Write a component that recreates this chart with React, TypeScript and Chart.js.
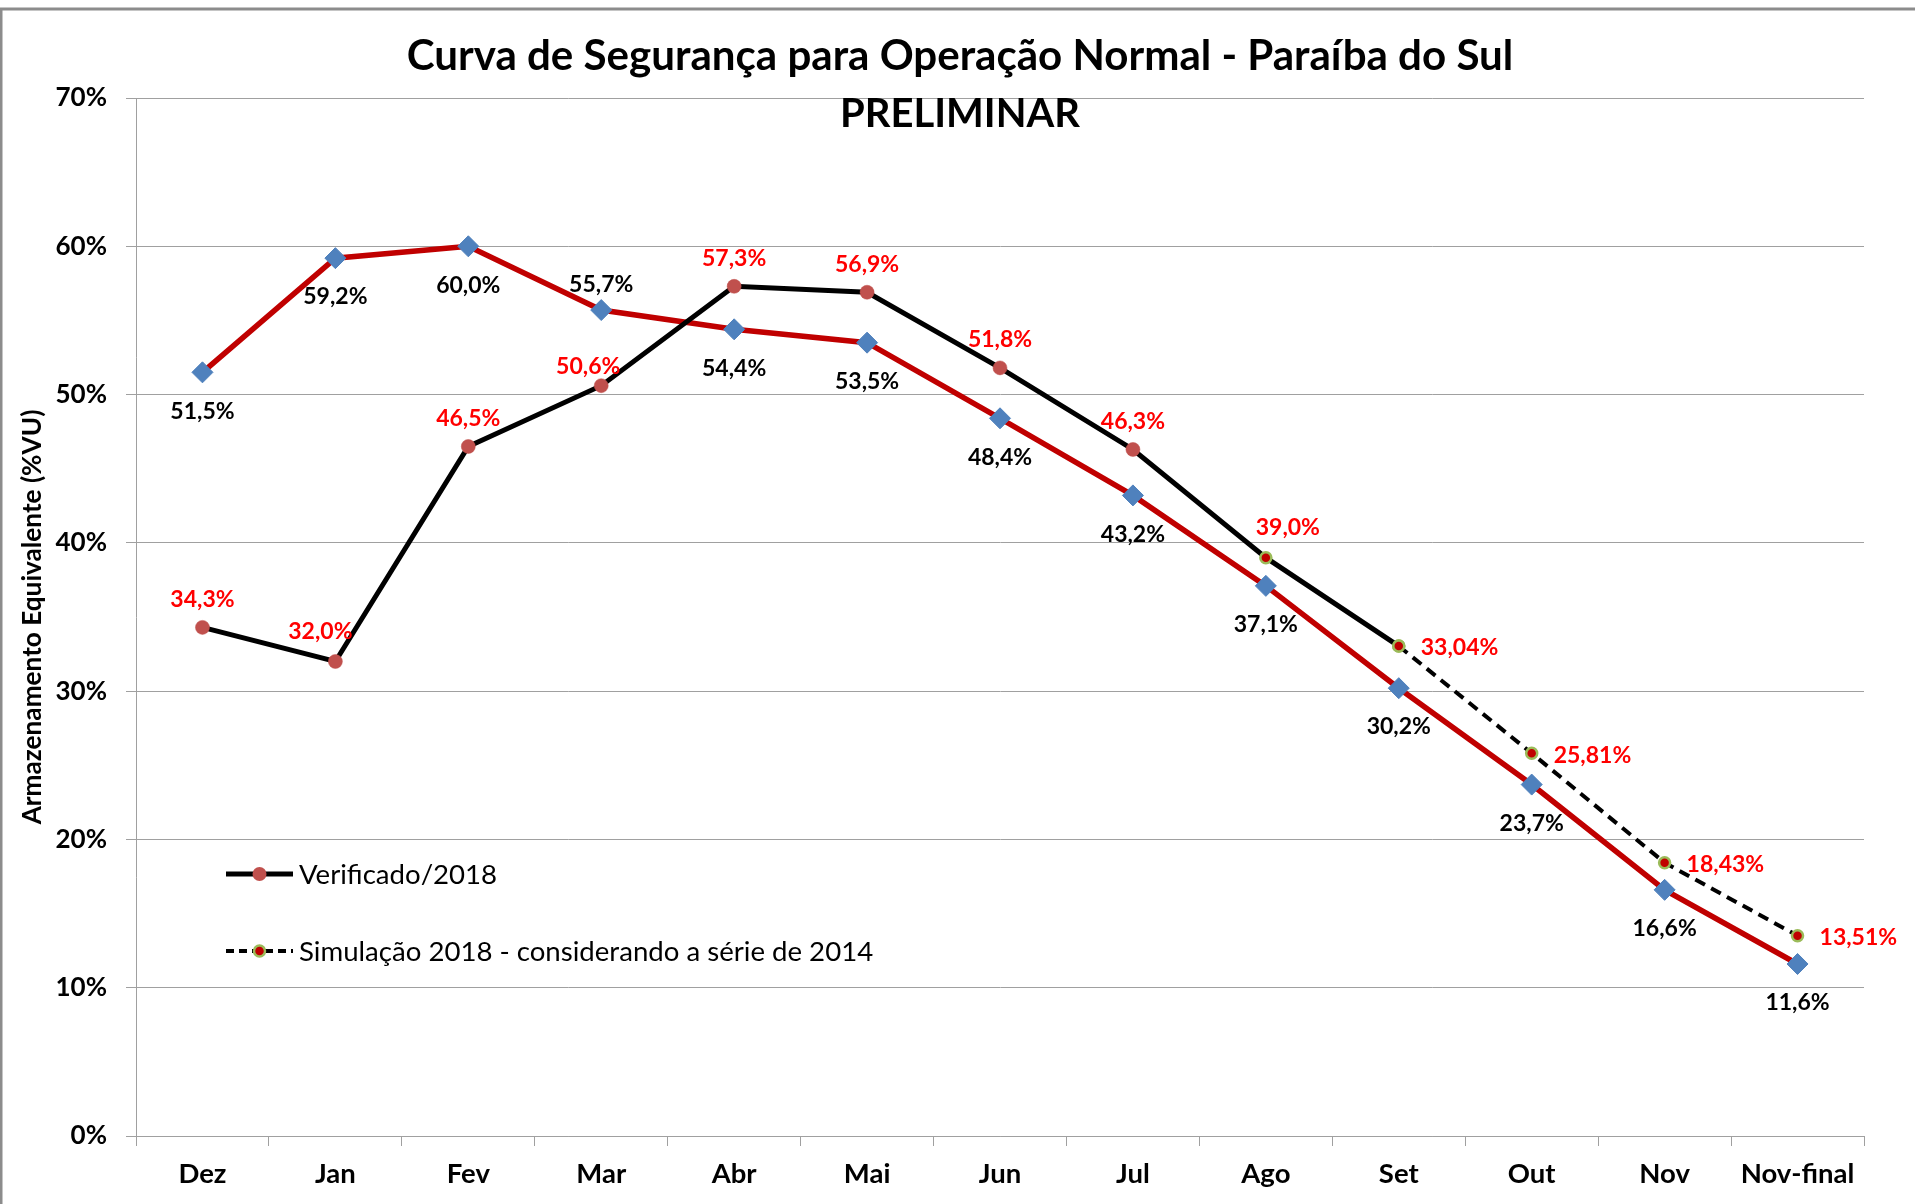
import React, { useEffect, useRef } from "react";
import { Chart, registerables } from "chart.js";

Chart.register(...registerables);

const TITLE = "Curva de Segurança para Operação Normal - Paraíba do Sul";
const SUBTITLE = "PRELIMINAR";
const Y_TITLE = "Armazenamento Equivalente (%VU)";

const CATEGORIES = ["Dez", "Jan", "Fev", "Mar", "Abr", "Mai", "Jun", "Jul", "Ago", "Set", "Out", "Nov", "Nov-final"];
const CURVA = [51.5, 59.2, 60.0, 55.7, 54.4, 53.5, 48.4, 43.2, 37.1, 30.2, 23.7, 16.6, 11.6];
const VERIFICADO = [34.3, 32.0, 46.5, 50.6, 57.3, 56.9, 51.8, 46.3, 39.0, 33.04, null, null, null];
const SIMULACAO = [null, null, null, null, null, null, null, null, null, 33.04, 25.81, 18.43, 13.51];
const Y_MIN = 0;
const Y_MAX = 70;
const Y_STEP = 10;

const LEGEND_LABELS = ["Verificado/2018", "Simulação 2018 - considerando a série de 2014"];

// layout / style
const FONT = "Lato";
const GRID = "#a0a0a0";
const RED_TEXT = "#ff0000";
const CURVE_RED = "#c00000";
const DIAMOND = "#4f81bd";
const VERIF_DOT = "#c0504d";
const SIM_DOT = "#c00000";
const SIM_RING = "#9bbb59";
// label nudges (dx, dy) for Verificado labels relative to default above-position
const VERIF_NUDGE: Record<number, [number, number]> = { 1: [-15, -2], 3: [-13, 9], 8: [22, -2] };
const CURVA_ABOVE = new Set([3]);

function fmt(v: number, d: number) {
  return v.toFixed(d).replace(".", ",") + "%";
}

function drawCentered(ctx: CanvasRenderingContext2D, text: string, x: number, cy: number, size: number, align: CanvasTextAlign) {
  ctx.textAlign = align;
  ctx.textBaseline = "alphabetic";
  ctx.fillText(text, x, cy + size * 0.36);
}

function fitSize(ctx: CanvasRenderingContext2D, text: string, width: number, weight: string) {
  ctx.font = `${weight} 100px ${FONT}`;
  const w = ctx.measureText(text).width;
  return (100 * width) / w;
}

const customPlugin = {
  id: "custom",
  beforeDraw(chart: any) {
    const ctx = chart.ctx as CanvasRenderingContext2D;
    ctx.save();
    ctx.fillStyle = "#ffffff";
    ctx.fillRect(0, 0, chart.width, chart.height);
    ctx.strokeStyle = "#8c8c8c";
    ctx.lineWidth = 3;
    ctx.strokeRect(1, 9, chart.width + 20, chart.height + 20);
    ctx.restore();
  },
  afterDatasetsDraw(chart: any) {
    const ctx = chart.ctx as CanvasRenderingContext2D;
    ctx.save();
    const size = 23;
    ctx.font = `bold ${size}px ${FONT}`;
    // Curva labels (black)
    const m0 = chart.getDatasetMeta(0);
    CURVA.forEach((v, i) => {
      const p = m0.data[i];
      if (v == null || !p) return;
      ctx.fillStyle = "#000";
      const dy = CURVA_ABOVE.has(i) ? -26 : 38;
      drawCentered(ctx, fmt(v, 1), p.x, p.y + dy, size, "center");
    });
    // Verificado labels (red)
    const m1 = chart.getDatasetMeta(1);
    VERIFICADO.forEach((v, i) => {
      const p = m1.data[i];
      if (v == null || !p) return;
      if (SIMULACAO[i] != null) return;
      const n = VERIF_NUDGE[i] || [0, 0];
      ctx.fillStyle = RED_TEXT;
      drawCentered(ctx, fmt(v, 1), p.x + n[0], p.y - 29 + n[1], size, "center");
    });
    // Simulação labels (red, right)
    const m2 = chart.getDatasetMeta(2);
    SIMULACAO.forEach((v, i) => {
      const p = m2.data[i];
      if (v == null || !p) return;
      ctx.fillStyle = RED_TEXT;
      drawCentered(ctx, fmt(v, 2), p.x + 22, p.y + 1, size, "left");
    });
    ctx.restore();
  },
  afterDraw(chart: any) {
    const ctx = chart.ctx as CanvasRenderingContext2D;
    ctx.save();
    ctx.fillStyle = "#000";
    // Title
    let s = fitSize(ctx, TITLE, 1107, "bold");
    ctx.font = `bold ${s}px ${FONT}`;
    ctx.textAlign = "center";
    ctx.textBaseline = "alphabetic";
    ctx.fillText(TITLE, 960, 70);
    s = fitSize(ctx, SUBTITLE, 240, "bold");
    ctx.font = `bold ${s}px ${FONT}`;
    ctx.fillText(SUBTITLE, 960, 127);
    // Y title
    s = fitSize(ctx, Y_TITLE, 415, "bold");
    ctx.font = `bold ${s}px ${FONT}`;
    ctx.translate(41, 617);
    ctx.rotate(-Math.PI / 2);
    ctx.textAlign = "center";
    ctx.fillText(Y_TITLE, 0, 0);
    ctx.setTransform(1, 0, 0, 1, 0, 0);

    // Legend
    const lx0 = 226, lx1 = 293, lxm = 259.5;
    const ly = [874, 951];
    // Verificado
    ctx.strokeStyle = "#000";
    ctx.lineWidth = 5;
    ctx.setLineDash([]);
    ctx.beginPath();
    ctx.moveTo(lx0, ly[0]);
    ctx.lineTo(lx1, ly[0]);
    ctx.stroke();
    ctx.fillStyle = VERIF_DOT;
    ctx.beginPath();
    ctx.arc(lxm, ly[0], 7, 0, Math.PI * 2);
    ctx.fill();
    // Simulação
    ctx.lineWidth = 4;
    ctx.setLineDash([8, 5]);
    ctx.beginPath();
    ctx.moveTo(lx0, ly[1]);
    ctx.lineTo(lx1, ly[1]);
    ctx.stroke();
    ctx.setLineDash([]);
    ctx.fillStyle = SIM_DOT;
    ctx.strokeStyle = SIM_RING;
    ctx.lineWidth = 2.5;
    ctx.beginPath();
    ctx.arc(lxm, ly[1], 5.5, 0, Math.PI * 2);
    ctx.fill();
    ctx.stroke();

    ctx.fillStyle = "#000";
    const ls = 27.6;
    ctx.font = `${ls}px ${FONT}`;
    drawCentered(ctx, LEGEND_LABELS[0], 299, ly[0], ls, "left");
    drawCentered(ctx, LEGEND_LABELS[1], 299, ly[1], ls, "left");
    ctx.restore();
  },
};

export default function App() {
  const ref = useRef<HTMLCanvasElement>(null);
  useEffect(() => {
    document.body.style.margin = "0";
    const canvas = ref.current;
    if (!canvas) return;
    const chart = new Chart(canvas, {
      type: "line",
      data: {
        labels: CATEGORIES,
        datasets: [
          {
            label: "Curva de Segurança",
            data: CURVA,
            borderColor: CURVE_RED,
            borderWidth: 5.5,
            pointStyle: "rectRot",
            pointRadius: 10.5,
            pointBackgroundColor: DIAMOND,
            pointBorderColor: DIAMOND,
            pointBorderWidth: 1,
            tension: 0,
            order: 3,
          },
          {
            label: LEGEND_LABELS[0],
            data: VERIFICADO,
            borderColor: "#000",
            borderWidth: 5,
            pointStyle: "circle",
            pointRadius: (c: any) => (c.dataIndex >= 8 ? 5.5 : 7),
            pointBackgroundColor: (c: any) => (c.dataIndex >= 8 ? SIM_DOT : VERIF_DOT),
            pointBorderColor: (c: any) => (c.dataIndex >= 8 ? SIM_RING : VERIF_DOT),
            pointBorderWidth: (c: any) => (c.dataIndex >= 8 ? 2.5 : 0.5),
            tension: 0,
            order: 2,
          },
          {
            label: LEGEND_LABELS[1],
            data: SIMULACAO,
            borderColor: "#000",
            borderWidth: 4,
            borderDash: [11, 7],
            pointStyle: "circle",
            pointRadius: 5.5,
            pointBackgroundColor: SIM_DOT,
            pointBorderColor: SIM_RING,
            pointBorderWidth: 2.5,
            tension: 0,
            order: 1,
          },
        ],
      },
      options: {
        responsive: false,
        animation: false,
        devicePixelRatio: 1,
        layout: { padding: { top: 98, right: 51, bottom: 0, left: 0 } },
        plugins: {
          legend: { display: false },
          title: { display: false },
          tooltip: { enabled: false },
        },
        scales: {
          x: {
            offset: true,
            grid: { offset: true, drawOnChartArea: false, tickLength: 10, color: GRID, lineWidth: 1 },
            border: { color: GRID, width: 1 },
            ticks: { font: { family: FONT, size: 27.5, weight: "bold" }, color: "#000", padding: 12, maxRotation: 0 },
            afterFit: (s: any) => {
              s.height = 68;
            },
          },
          y: {
            min: Y_MIN,
            max: Y_MAX,
            ticks: {
              stepSize: Y_STEP,
              callback: (v: any) => v + "%",
              font: { family: FONT, size: 26, weight: "bold" },
              color: "#000",
              padding: 19,
            },
            grid: { color: GRID, tickLength: 10, lineWidth: 1 },
            border: { color: GRID, width: 1 },
            afterFit: (s: any) => {
              s.width = 136;
            },
          },
        },
      },
      plugins: [customPlugin],
    } as any);
    return () => chart.destroy();
  }, []);
  return (
    <div style={{ position: "fixed", left: 0, top: 0, width: 1915, height: 1204, background: "#fff" }}>
      <canvas ref={ref} width={1915} height={1204} style={{ width: 1915, height: 1204, display: "block" }} />
    </div>
  );
}
